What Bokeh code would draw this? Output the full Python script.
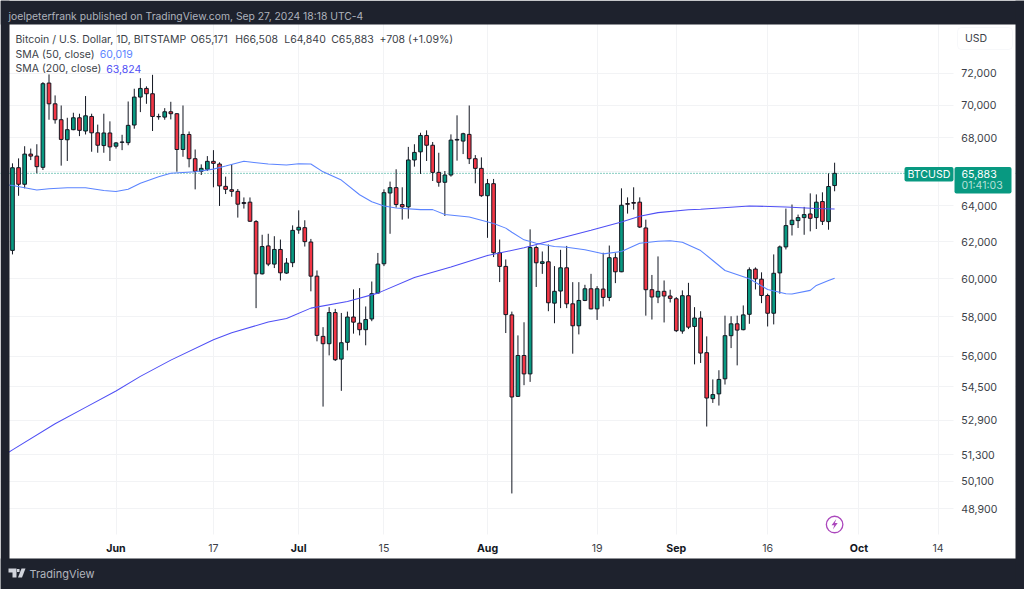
from bokeh.plotting import figure
from bokeh.embed import file_html
from bokeh.resources import INLINE
from bokeh.models import (Range1d, FixedTicker, NumeralTickFormatter, Label, BoxAnnotation,
                          PolyAnnotation, Span, ColumnDataSource)

# ---- data -------------------------------------------------------------
first_day = -17  # candles are indexed in days relative to 1 June 2024
opens = [61520,66215,65245,67020,66900,66235,71390,70085,69100,67880,68490,69220,68410,69300,68300,67530,68290,67490,67725,67705,
         68775,70505,71050,70715,69300,69260,69590,69470,67295,68200,66745,66000,66120,66590,66430,65125,64930,64835,64195,64215,
         63115,60250,61765,60775,61570,60290,60850,62645,62775,61980,60125,56990,56620,58210,55850,56690,57980,57665,57330,57880,
         59230,60790,64740,65050,64080,63945,66670,67155,68140,67550,65940,65360,65785,67860,67800,68205,66745,66175,64585,65280,
         61390,60650,58090,54030,56030,55120,61675,60810,60900,58700,59335,60575,58665,57530,58840,59455,58400,59440,59000,61120,
         60360,64135,64195,64215,62760,59405,59020,59320,59075,58930,57260,59090,57495,57930,56170,53920,54150,54880,57025,57630,
         57330,58120,60505,59965,59100,58175,60300,61710,62945,63170,63340,63545,63340,64250,63115,65171]
highs = [66470,66765,67490,67350,67610,71450,71940,70610,69980,69220,69530,69470,70570,69470,68800,69470,69000,67745,68180,70230,
         71030,71700,71180,71915,69470,69815,70210,69510,69980,68380,67295,66410,66900,67255,66530,65690,66430,64970,64485,64485,
         63200,62380,62435,62300,62115,61100,62905,63750,63190,62150,60430,57460,58490,58400,58190,58260,59420,59490,58525,59840,
         61380,64950,65400,66120,65070,67450,67610,68305,68450,67745,67100,66020,68205,69370,68305,69980,66960,66825,65555,65555,
         62115,61025,58260,57040,57710,62680,61785,61460,61840,60665,61550,61765,59805,59805,59665,60250,59595,61390,61785,61370,
         65010,64490,65070,64490,63225,60190,61190,59895,59405,59020,59370,59770,58490,58280,56990,54850,55300,58050,58020,58050,
         58580,60595,60595,60330,59195,61300,61785,63850,64080,63510,63945,64720,64660,64780,65880,66508]
lows = [61300,64580,65010,66665,65885,66080,69100,68860,66335,66610,68460,68100,68200,67160,67100,67100,66610,67350,67255,67550,
        68550,69570,70085,68410,69100,69100,69120,65980,66860,66235,64950,65785,66020,65070,64000,64680,64525,63340,63850,63100,
        58440,60215,60665,60560,59895,60250,60610,62435,61730,59320,56740,53540,56035,55755,54295,56285,57130,57040,56540,57765,
        59195,60665,62435,63905,63225,63280,66275,65845,66610,65435,65105,63430,65690,66630,67020,66430,65300,64520,62210,61155,
        59810,57160,49560,54000,54570,54730,59550,60250,58280,57660,58440,58440,56120,57090,58805,58380,57830,58525,58805,59755,
        60340,63565,63790,62760,58050,57850,58700,57700,58735,57210,57125,57360,55590,55660,52600,53715,53590,54600,56400,55540,
        57300,57630,59420,58700,57495,57600,59195,61570,62340,62755,62380,62570,62700,62925,62660,64840]
closes = [66210,65245,67020,66900,66275,71350,70085,69100,67900,68490,69220,68450,69340,68300,67550,68290,67450,67690,67745,68755,
          70505,71050,70715,69300,69280,69590,69470,67295,68200,66745,66000,66175,66590,66470,65150,64950,64835,64100,64135,63135,
          60250,61730,60775,61570,60305,60830,62625,62795,62000,60125,57040,56620,58210,55820,56670,57980,57715,57330,57850,59195,
          60775,64760,65050,64080,63945,66670,67120,68140,67550,65940,65360,65785,67860,67900,68245,66745,66175,64585,65280,61390,
          60650,58105,54000,56030,55120,61675,60845,60900,58720,59320,60575,58665,57530,58840,59455,58400,59455,59000,61120,60360,
          64040,64095,64155,62810,59405,59020,59320,59075,58950,57280,59090,57460,57930,56150,53950,54115,54850,57025,57630,57310,
          58090,60470,59980,59100,58175,60280,61710,62890,63190,63340,63510,63300,64215,63130,65115,65883]

sma50_idx = [-1,0,4,6,9,12,15,17,19,21,24,26,30,33,35,38,39,42,45,47,49,51,54,57,59,61,63,67,69,71,75,79,81,82,84,86,89,91,94,97,
             100,103,106,108,110,113,115,117,121,124,127,128,131,132,134,135]
sma50_val = [65220,65170,64910,64985,65040,65040,64890,64830,64960,65310,65680,65890,65970,66130,66310,66590,66550,66430,66375,66450,
             66430,65970,65490,64640,64240,64000,63880,63790,63790,63510,63370,63010,62750,62520,62100,61910,61730,61690,61550,
             61330,61460,61910,62020,62045,61970,61510,60970,60430,59985,59420,59190,59180,59370,59630,59890,60019]
sma200_idx = [-1,0,7,12,17,21,26,33,36,42,45,49,55,60,66,72,78,84,89,95,100,103,106,111,113,121,127,132,135]
sma200_val = [51340,51520,52730,53505,54285,55000,55800,56820,57180,57720,57900,58440,58790,59225,60050,60620,61240,61660,62110,
              62625,63095,63415,63620,63780,63810,63995,63945,63860,63824]

price_ticks = [48900,50100,51300,52900,54500,56000,58000,60000,62000,64000,66000,68000,70000,72000]
day_ticks = [16,44,79,107,135]
day_labels = ["17","15","19","16","14"]
month_ticks = [0,30,61,92,122]
month_labels = ["Jun","Jul","Aug","Sep","Oct"]
last_price = 65883

symbol = "Bitcoin / U.S. Dollar, 1D, BITSTAMP"
ohlc_text = ["O65,171", "H66,508", "L64,840", "C65,883", "+708 (+1.09%)"]
published = "joelpeterfrank published on TradingView.com, Sep 27, 2024 18:18 UTC-4"

# ---- style ------------------------------------------------------------
DARK = "#1E222D"; GREEN = "#089981"; RED = "#F23645"; GRID = "#F2F3F5"
INK = "#3C3F48"; SMA50 = "#5B84FF"; SMA200 = "#4F4FF5"; FONT = "Inter"
W, H = 1024, 589
TXT = "10.5px"

# The frame fills the canvas; dark and white strips frame the price/time area.
p = figure(width=W, height=H, output_backend="svg", toolbar_location=None, y_axis_type="log",
           y_axis_location="right", x_range=Range1d(-18.966, 149.18), y_range=Range1d(45503, 76829),
           min_border=0, border_fill_color=DARK, background_fill_color="white", outline_line_color=None)

def sx(x): return x
def sy(y): return H - y

def lab(x, y, text, color=INK, size=TXT, style="normal", align="left"):
    l = Label(x=sx(x), y=sy(y), x_units="screen", y_units="screen", text=text, text_color=color,
              text_font=FONT, text_font_size=size, text_font_style=style, text_align=align,
              text_baseline="middle", level="overlay")
    p.add_layout(l)

def box(x0, y0, x1, y1, color, level="overlay", line=None, radius=0):
    b = BoxAnnotation(left=sx(x0), right=sx(x1), top=sy(y0), bottom=sy(y1), left_units="screen",
                      right_units="screen", top_units="screen", bottom_units="screen", fill_color=color,
                      fill_alpha=1, line_color=line, level=level, border_radius=radius, editable=False)
    p.add_layout(b)

def poly(pts, color):
    a = PolyAnnotation(xs=[sx(q[0]) for q in pts], ys=[sy(q[1]) for q in pts], xs_units="screen", ys_units="screen",
                       fill_color=color, fill_alpha=1, line_color=None, level="overlay")
    p.add_layout(a)

# strips outside the plotting area, behind the axes
box(953, 24, 1015, 558, "white", level="guide")
box(9, 534, 953, 558, "white", level="guide")
box(0, 0, 1024, 24, DARK, level="guide")
box(0, 558, 1024, 589, DARK, level="guide")
box(0, 0, 9, 589, DARK, level="guide")
box(1015, 0, 1024, 589, DARK, level="guide")

# axes: pinned to the edge of the plotting area
yax = p.yaxis[0]
yax.level = "annotation"
yax.fixed_location = 137.5
yax.ticker = FixedTicker(ticks=price_ticks)
yax.formatter = NumeralTickFormatter(format="0,0")
yax.axis_line_color = None
yax.major_tick_line_color = None
yax.minor_tick_line_color = None
yax.major_tick_out = 0
yax.major_label_text_font = FONT
yax.major_label_text_font_size = "10.6px"
yax.major_label_text_color = INK
yax.major_label_standoff = 8

xax = p.xaxis[0]
xax.level = "annotation"
xax.fixed_location = 47786
xax.ticker = FixedTicker(ticks=day_ticks + month_ticks)
xax.major_label_overrides = {**{d: t for d, t in zip(day_ticks, day_labels)}, **{m: " " for m in month_ticks}}
xax.axis_line_color = None
xax.major_tick_line_color = None
xax.minor_tick_line_color = None
xax.major_tick_out = 0
xax.major_label_text_font = FONT
xax.major_label_text_font_size = "10.6px"
xax.major_label_text_color = INK
xax.major_label_standoff = 8

p.xgrid.ticker = FixedTicker(ticks=day_ticks + month_ticks)
p.ygrid.ticker = FixedTicker(ticks=price_ticks)
p.xgrid.grid_line_color = GRID
p.ygrid.grid_line_color = GRID
p.xgrid.grid_line_width = 1
p.ygrid.grid_line_width = 1

# last price line
p.add_layout(Span(location=last_price, dimension="width", line_color=GREEN, line_dash="1 2",
                  line_width=1, level="underlay"))

# candles
days = [first_day + i for i in range(len(opens))]
src = ColumnDataSource(dict(
    x=days, o=opens, h=highs, l=lows, c=closes,
    top=[max(a, b) for a, b in zip(opens, closes)],
    bot=[min(a, b) for a, b in zip(opens, closes)],
    color=[GREEN if c >= o else RED for o, c in zip(opens, closes)]))
p.segment("x", "h", "x", "l", source=src, line_color="#131722", line_width=1)
p.vbar(x="x", top="top", bottom="bot", width=0.6, source=src, fill_color="color", line_color="#131722", line_width=1)

# moving averages
p.line([first_day + i for i in sma50_idx], sma50_val, line_color=SMA50, line_width=1.05)
p.line([first_day + i for i in sma200_idx], sma200_val, line_color=SMA200, line_width=1.05)

# month labels (bold)
for m, t in zip(month_ticks, month_labels):
    p.add_layout(Label(x=m, y=sy(547.5), x_units="data", y_units="screen", text=t, text_color="#131722",
                       text_font=FONT, text_font_size="10.6px", text_font_style="bold", text_align="center",
                       text_baseline="middle", level="overlay"))

# event marker
p.scatter([days[-1]], [48210], size=16.5, marker="circle", fill_color="white", line_color="#AB47BC", line_width=1.3)
poly([(835.8, 518.5), (831, 524.8), (833.8, 524.8), (832.4, 529), (837.2, 522.6), (834.4, 522.6)], "#AB47BC")

# header
lab(8, 15.5, published, color="#AEB2BC", size="10.35px")
lab(15, 38.5, symbol)
for xpos, t in zip([190, 234.7, 283.7, 330.7, 379], ohlc_text):
    lab(xpos, 38.5, t)
lab(15, 53.5, "SMA (50, close)")
lab(99.3, 53.5, "60,019", color=SMA50)
lab(15, 68, "SMA (200, close)")
lab(105.7, 68, "63,824", color=SMA200)

# USD box
box(957, 27, 1012, 49, "white", line="#E6E8EE", radius=4)
lab(964.5, 38, "USD")

# price tags
box(904, 166.5, 953, 181, GREEN, radius=2)
box(954, 166.5, 1011, 193, GREEN, radius=2)
lab(907, 173.5, "BTCUSD", color="white", size="10.6px")
lab(961, 173, "65,883", color="white", size="10.6px")
lab(961, 185, "01:41:03", color="#B5E0D8", size="10.6px")

# footer logo
poly([(8, 568), (16, 568), (16, 577), (12, 577), (12, 572), (8, 572)], "#D1D4DC")
poly([(25, 568), (21.5, 577), (17.5, 577), (21, 568)], "#D1D4DC")
poly([(16.5, 568.5), (19, 568.5), (19, 571.5), (16.5, 571.5)], "#D1D4DC")
lab(29, 573, "TradingView", color="#B2B5BE", size="11px")

open("out.html", "w").write(file_html(p, INLINE))
